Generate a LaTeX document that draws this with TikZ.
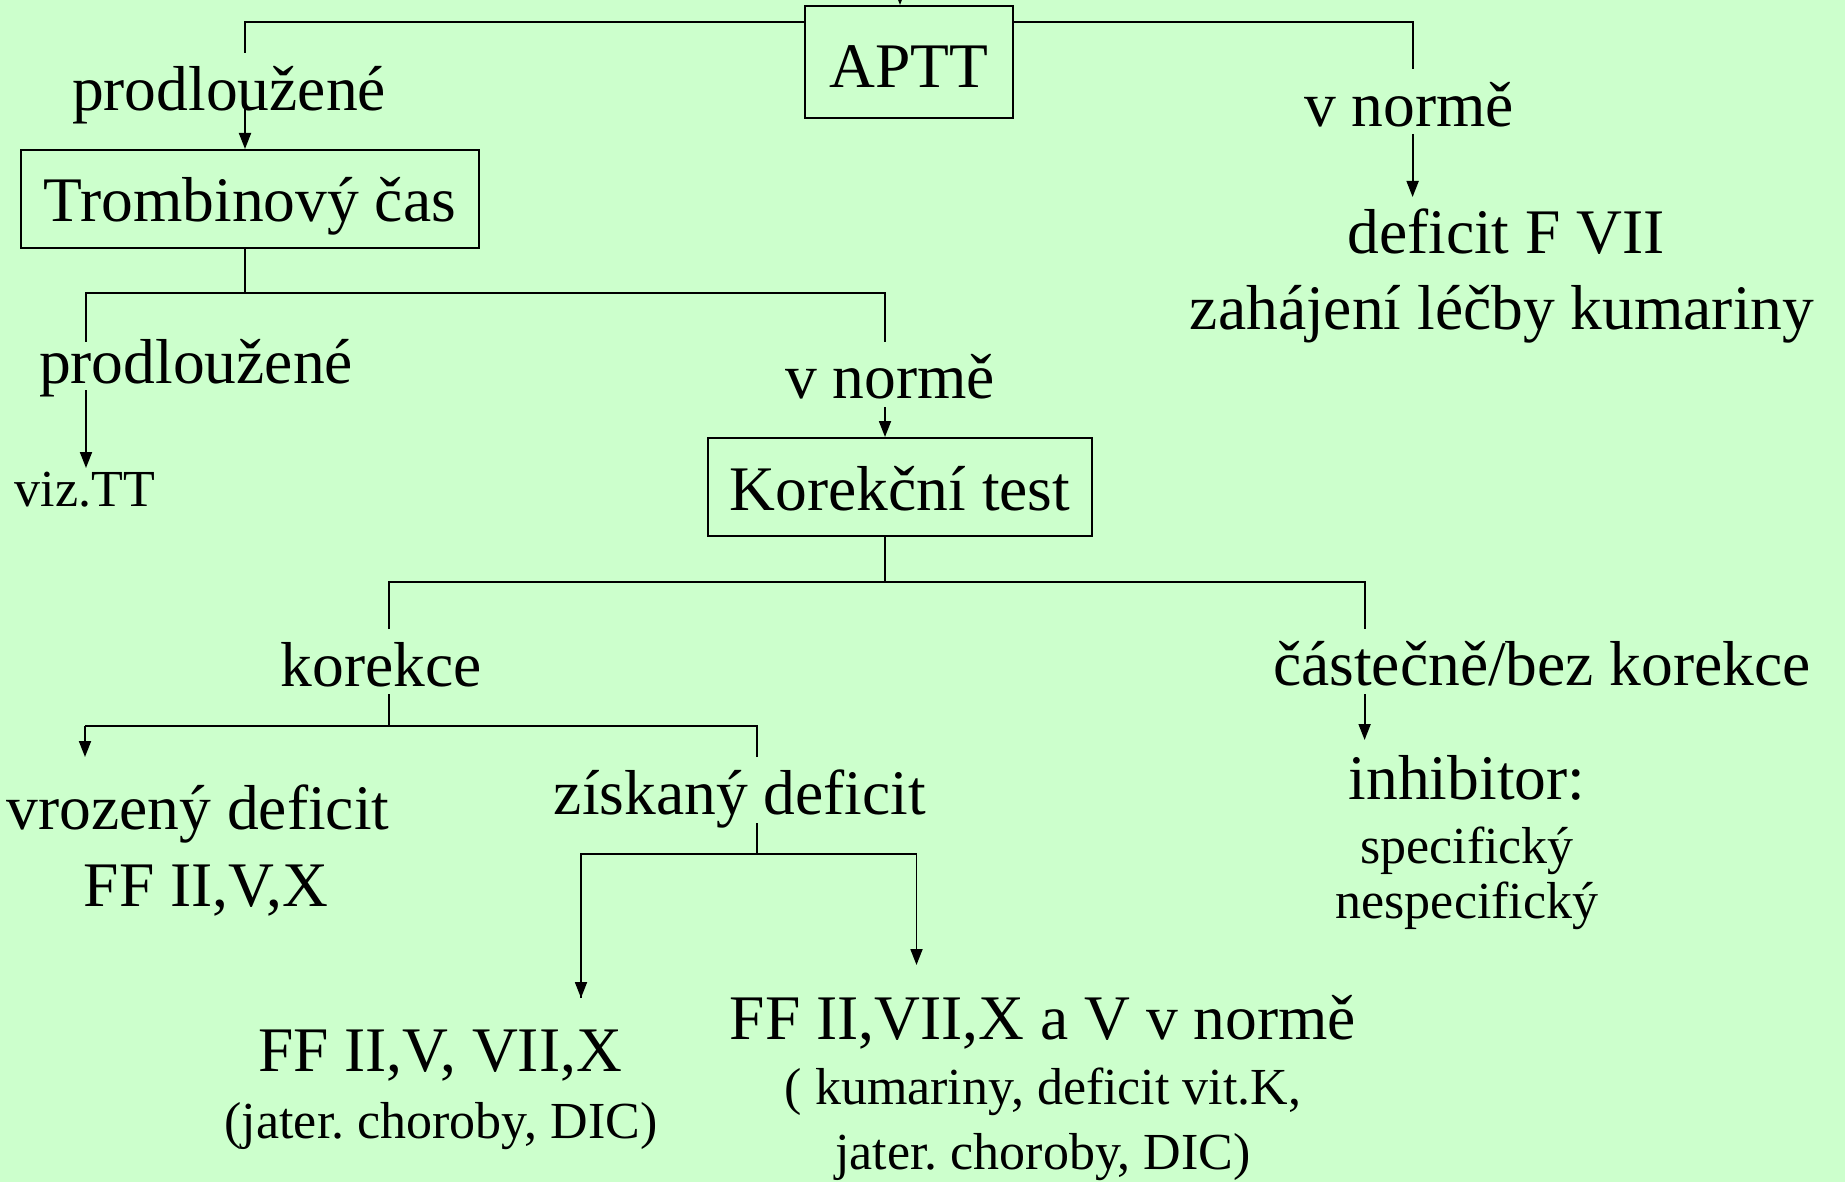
\documentclass[tikz,border=0pt]{standalone}
\usepackage{fontspec}
\setmainfont{Liberation Serif}
\usetikzlibrary{arrows.meta,calc}
\frenchspacing
\newcommand{\Lgf}{\fontsize{63.5}{70}\selectfont}
\newcommand{\Smf}{\fontsize{52}{60}\selectfont}
\definecolor{bgg}{HTML}{CCFFCC}
\begin{document}
\begin{tikzpicture}[x=1pt,y=-1pt,line width=1.8pt,
  lbl/.style={anchor=base,inner sep=0pt,font=\Lgf},
  sml/.style={anchor=base,inner sep=0pt,font=\Smf},
  box/.style={draw,line width=2pt,inner sep=0pt,font=\Lgf,text height=46pt,text depth=0pt},
  arr/.style={-{Triangle[length=16pt,width=12pt]}}]
\fill[bgg] (0,0) rectangle (1845,1182);
\useasboundingbox (0,0) rectangle (1845,1182);
% boxes
\node[box,minimum width=208pt,minimum height=112pt,text height=52pt] (aptt) at (909,62) {APTT};
\node[box,minimum width=458pt,minimum height=98pt] (tc) at (250,199) {Trombinový čas};
\node[box,minimum width=384pt,minimum height=98pt] (kt) at (900,487) {Korekční test};
% labels
\node[lbl] (pl1) at (229,111) {prodloužené};
\node[lbl] (vn1) at (1409,127) {v normě};
\node[lbl] (df) at (1506,254) {deficit F VII};
\node[lbl] (zl) at (1502,330) {zahájení léčby kumariny};
\node[lbl] (pl2) at (196,383) {prodloužené};
\node[sml] (viz) at (85,506) {viz.TT};
\node[lbl] (vn2) at (890,398) {v normě};
\node[lbl] (kor) at (381,686) {korekce};
\node[lbl] (cbk) at (1542,685) {částečně/bez korekce};
\node[lbl] (inh) at (1467,799) {inhibitor:};
\node[sml] (spec) at (1467,863) {specifický};
\node[sml] (nspec) at (1467,918) {nespecifický};
\node[lbl] (vd) at (198,829) {vrozený deficit};
\node[lbl] (ff1) at (206,906) {FF II,V,X};
\node[lbl] (zd) at (740,814) {získaný deficit};
\node[lbl] (ff2) at (440,1071) {FF II,V, VII,X};
\node[sml] (jc1) at (441,1138) {(jater. choroby, DIC)};
\node[lbl] (ff3) at (1043,1039) {FF II,VII,X a V v normě};
\node[sml] (kum) at (1043,1104) {( kumariny, deficit vit.K,};
\node[sml] (jc2) at (1043,1169) {jater. choroby, DIC)};
% coordinates
\coordinate (top) at (900,0);
\coordinate (a1) at (245,21.7);
\coordinate (a2) at (245,53);
\coordinate (a3) at (245,97);
\coordinate (b1) at (1412.6,21.7);
\coordinate (b2) at (1412.6,69);
\coordinate (b3) at (1412.6,134);
\coordinate (b4) at (1412.6,197);
\coordinate (t1) at (245,293);
\coordinate (t1l) at (86,293);
\coordinate (t1r) at (885,293);
\coordinate (t2l) at (86,342);
\coordinate (t3l) at (86,390);
\coordinate (t4l) at (86,468);
\coordinate (t2r) at (885,342);
\coordinate (t3r) at (885,407);
\coordinate (k1) at (885,582);
\coordinate (k1l) at (389,582);
\coordinate (k1r) at (1364.6,582);
\coordinate (k2l) at (389,629);
\coordinate (k3l) at (389,694);
\coordinate (k4) at (389,726);
\coordinate (k4l) at (85,726);
\coordinate (k4r) at (757,726);
\coordinate (k5l) at (85,757);
\coordinate (k5r) at (757,757);
\coordinate (z1) at (757,823);
\coordinate (z2) at (757,854);
\coordinate (z2l) at (581,854);
\coordinate (z2r) at (916.5,854);
\coordinate (z3l) at (581,998);
\coordinate (z3r) at (916.5,965);
\coordinate (k2r) at (1364.6,629);
\coordinate (k3r) at (1364.6,694);
\coordinate (k4rr) at (1364.6,740);
% connectors
\draw[arr] (top) -- (top |- aptt.north);
\draw (aptt.west |- a1) -- (a1) -- (a2);
\draw[arr] (a3) -- (a3 |- tc.north);
\draw (aptt.east |- b1) -- (b1) -- (b2);
\draw[arr] (b3) -- (b4);
\draw (t1 |- tc.south) -- (t1);
\draw (t2l) -- (t1l) -- (t1r) -- (t2r);
\draw[arr] (t3l) -- (t4l);
\draw[arr] (t3r) -- (t3r |- kt.north);
\draw (k1 |- kt.south) -- (k1);
\draw (k2l) -- (k1l) -- (k1r) -- (k2r);
\draw (k3l) -- (k4);
\draw (k5r) -- (k4r) -- (k4l);
\draw[arr] (k4l) -- (k5l);
\draw (z1) -- (z2);
\draw (z3l) -- (z2l) -- (z2r);
\draw[arr] (z2l) -- (z3l);
\draw[arr] (z2r) -- (z3r);
\draw[arr] (k3r) -- (k4rr);
\end{tikzpicture}
\end{document}
